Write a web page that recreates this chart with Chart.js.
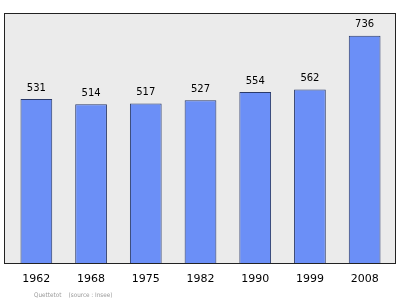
<!DOCTYPE html>
<html>
<head>
<meta charset="utf-8">
<script src="https://cdn.jsdelivr.net/npm/chart.js@4/dist/chart.umd.min.js"></script>
<style>
html,body{margin:0;padding:0;background:#fff;}
#wrap{position:relative;width:400px;height:299px;}
#foot{position:absolute;left:34px;top:291px;font:6.3px "DejaVu Sans Condensed","DejaVu Sans",sans-serif;color:#999;white-space:pre;line-height:8px;}
</style>
</head>
<body>
<div id="wrap">
<canvas id="c" width="400" height="299"></canvas>
<div id="foot">Quettetot    (source : Insee)</div>
</div>
<script>
const years = ["1962","1968","1975","1982","1990","1999","2008"];
const population = [531, 514, 517, 527, 554, 562, 736];

const frame = {
  id: 'frame',
  beforeDraw(chart) {
    const ctx = chart.ctx, a = chart.chartArea;
    ctx.save();
    ctx.fillStyle = '#ebebeb';
    ctx.strokeStyle = '#222';
    ctx.lineWidth = 1;
    const x = 4.5, y = a.top + 0.5, w = 391, h = a.bottom - a.top;
    ctx.fillRect(x, y, w, h);
    ctx.strokeRect(x, y, w, h);
    ctx.restore();
  }
};
const valueLabels = {
  id: 'valueLabels',
  afterDatasetsDraw(chart) {
    const ctx = chart.ctx;
    const meta = chart.getDatasetMeta(0);
    ctx.save();
    ctx.font = '10px "DejaVu Sans", sans-serif';
    ctx.fillStyle = '#000';
    ctx.textAlign = 'center';
    ctx.textBaseline = 'middle';
    meta.data.forEach((bar, i) => {
      ctx.fillText(String(population[i]), bar.x, bar.y - 11);
    });
    ctx.restore();
  }
};

new Chart(document.getElementById('c'), {
  type: 'bar',
  data: {
    labels: years,
    datasets: [{
      data: population,
      backgroundColor: '#6b8ff7',
      borderColor: '#2a3a6a',
      borderWidth: 1,
      borderSkipped: 'bottom',
      categoryPercentage: 1,
      barPercentage: 0.58
    }]
  },
  options: {
    responsive: false,
    animation: false,
    devicePixelRatio: 1,
    layout: { padding: { left: 9, right: 8, top: 13, bottom: 0 } },
    plugins: { legend: { display: false }, tooltip: { enabled: false } },
    scales: {
      x: {
        grid: { display: false, drawTicks: false },
        border: { display: false },
        ticks: { color: '#000', font: { family: '"DejaVu Sans", sans-serif', size: 11 }, padding: 10, maxRotation: 0 },
        afterFit(scale) { scale.height = 36; }
      },
      y: {
        display: false,
        min: 0,
        max: 810
      }
    }
  },
  plugins: [frame, valueLabels]
});
</script>
</body>
</html>
